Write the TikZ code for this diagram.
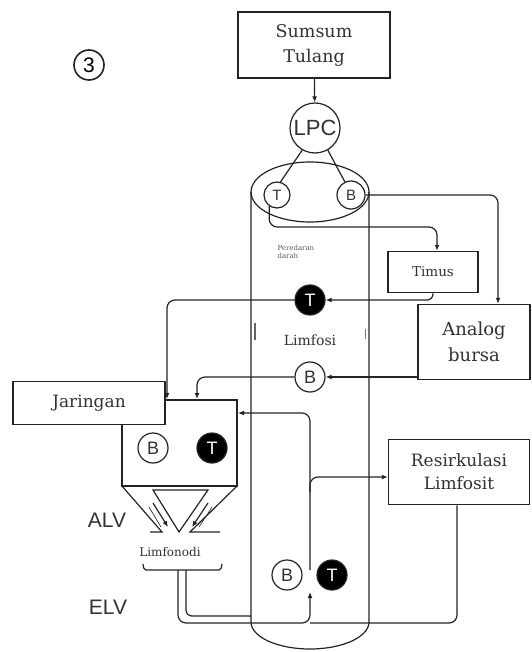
\documentclass[tikz,border=0pt]{standalone}
\usepackage{fontspec}
\setmainfont{DejaVu Serif}
\newfontfamily\cellfont{Liberation Sans}
\usetikzlibrary{arrows.meta,positioning,calc}
\definecolor{InkGray}{RGB}{35,35,35}
\definecolor{TextGray}{RGB}{50,50,50}
\tikzset{
  labelbox/.style={draw=InkGray,line width=1.5pt,fill=white,align=center,
    inner sep=2pt,text=TextGray},
  cellw/.style={circle,draw=InkGray,line width=1.2pt,fill=white,minimum size=30pt,
    inner sep=0pt,text=TextGray,font=\cellfont\fontsize{18}{18}\selectfont},
  cellb/.style={cellw,fill=black,text=white},
  wire/.style={line width=1.2pt,InkGray},
  arrow/.style={-{Latex[length=6pt,width=5pt]},line width=1.2pt,InkGray}
}

\begin{document}
\begin{tikzpicture}[x=1pt,y=-1pt]
  \useasboundingbox (0,0) rectangle (531,652);

  % blood column
  \draw[wire] (310,192) ellipse[x radius=59,y radius=30];
  \draw[wire] (251,192) -- (251,622)
    arc[start angle=180,end angle=0,x radius=59,y radius=27] -- (369,192);
  \draw[line width=2pt,InkGray!70] (255,323) -- (255,340);
  \draw[line width=1pt,InkGray!60] (365,329) -- (365,339);

  \node[circle,draw=InkGray,line width=1.6pt,minimum size=30pt,inner sep=0pt,
        font=\cellfont\fontsize{21}{21}\selectfont] (nomor) at (89,65) {3};

  \node[labelbox,minimum width=152pt,minimum height=66pt,
        font=\fontsize{17.5}{25}\selectfont] (sumsum) at (314,45) {Sumsum\\Tulang};
  \node[cellw,minimum size=50pt,font=\cellfont\fontsize{22}{22}\selectfont]
        (lpc) at (315,128) {LPC};
  \node[labelbox,minimum width=90pt,minimum height=41pt,
        font=\fontsize{13.5}{15}\selectfont] (timus) at (433,272) {Timus};
  \node[labelbox,minimum width=112pt,minimum height=75pt,
        font=\fontsize{18}{26}\selectfont] (analog) at (474,342) {Analog\\bursa};
  \node[labelbox,minimum width=152pt,minimum height=43pt,
        font=\fontsize{17}{20}\selectfont] (jaringan) at (89,403) {Jaringan};
  \node[labelbox,minimum width=141pt,minimum height=65pt,
        font=\fontsize{17}{23}\selectfont] (resirk) at (459,472) {Resirkulasi\\Limfosit};

  % lymphocytes
  \node[cellw,minimum size=26pt,font=\cellfont\fontsize{15}{15}\selectfont]
        (tTop) at (277,195) {T};
  \node[cellw,minimum size=28pt,font=\cellfont\fontsize{15}{15}\selectfont]
        (bTop) at (351,195) {B};
  \node[cellb] (tBlood) at (310,300) {T};
  \node[cellw] (bBlood) at (310,377) {B};
  \node[cellw] (bTis) at (153,448) {B};
  \node[cellb] (tTis) at (212,448) {T};
  \node[cellw] (bBot) at (287,575) {B};
  \node[cellb] (tBot) at (332,575) {T};

  \node[font=\fontsize{7}{8}\selectfont,text=TextGray!80,align=left,anchor=north west]
        (peredaran) at (274,242) {Peredaran\\darah};
  \node[font=\fontsize{14}{14}\selectfont,text=TextGray] (limfosi) at (310,340) {Limfosi};
  \node[font=\fontsize{12}{12}\selectfont,text=TextGray] (nodi) at (170,552) {Limfonodi};
  \node[font=\cellfont\fontsize{21}{21}\selectfont,text=TextGray] (alv) at (107,520) {ALV};
  \node[font=\cellfont\fontsize{21}{21}\selectfont,text=TextGray] (elv) at (108,607) {ELV};

  % tissue and lymph node
  \draw[wire] (165,400) -- (237,400) -- (237,486) -- (122,486) -- (122,425);
  \draw[wire] (122,486) -- (162,532) -- (150,532);
  \draw[wire] (237,486) -- (190,532) -- (220,532);
  \draw[wire] (153,490) -- (208,490) -- (179,532) -- cycle;
  \draw[arrow] (153,503) -- (168,527);
  \draw[wire,line width=0.6pt] (149,507) -- (161,527);
  \draw[arrow] (208,503) -- (192,527);
  \draw[wire,line width=0.6pt] (212,507) -- (199,527);
  \draw[wire,rounded corners=2pt] (143,564) -- (144,570) -- (221,570) -- (222,564);

  % connectors
  \coordinate (tBend) at (437,227);
  \coordinate (tisTL) at (167,399);
  \coordinate (tisTM) at (197,399);
  \coordinate (tisR) at (238,413);
  \coordinate (split) at (310,570);
  \coordinate (merge) at (310,623);
  \draw[arrow] (sumsum) -- (lpc);
  \draw[wire] (lpc.240) -- (tTop.75);
  \draw[wire] (lpc.300) -- (bTop.115);
  \draw[arrow,rounded corners=8pt] (tTop.235) |- (tBend) -- (tBend |- timus.north);
  \draw[arrow,rounded corners=8pt] (bTop.east) -| ([xshift=24pt]analog.north);
  \draw[arrow,rounded corners=6pt] (timus.south) |- (tBlood.east);
  \draw[arrow,rounded corners=8pt] (tBlood.west) -| (tisTL);
  \draw[arrow] (analog.west |- bBlood) -- (bBlood.east);
  \draw[arrow,rounded corners=8pt] (bBlood.west) -| (tisTM);
  \draw[arrow,rounded corners=8pt] (split) |- (tisR);
  \draw[arrow,rounded corners=8pt] (310,492) |- ([yshift=-5pt]resirk.west);
  \draw[arrow,rounded corners=8pt] (178,570) |- (merge) -- (310,592);
  \draw[wire,rounded corners=6pt] (186,570) |- (251,616);
  \draw[wire,rounded corners=8pt] ([xshift=-2pt]resirk.south) |- (merge);
\end{tikzpicture}
\end{document}
